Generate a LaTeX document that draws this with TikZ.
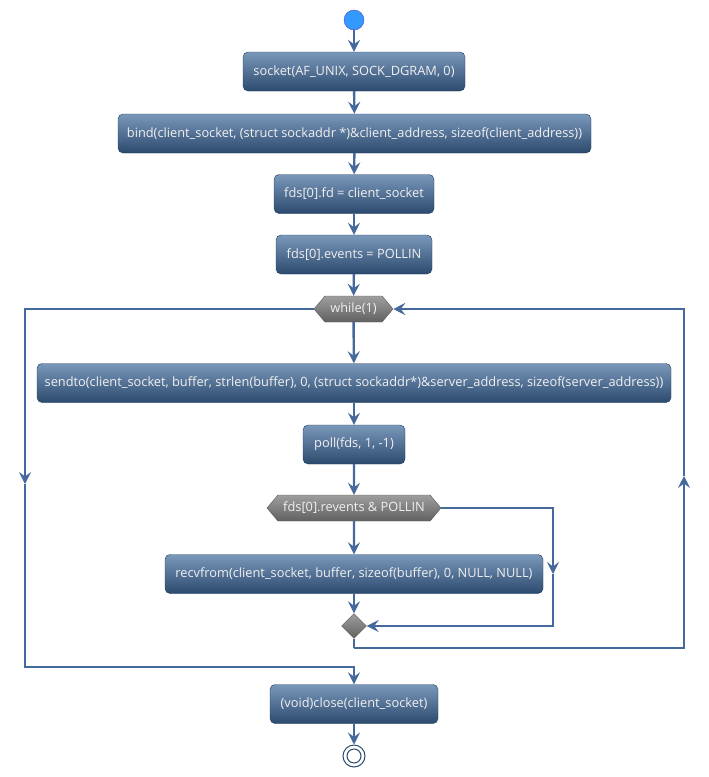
\documentclass[tikz,border=0pt]{standalone}
\usepackage{fontspec}
\setmainfont{Open Sans}
\usetikzlibrary{arrows.meta,shapes.geometric,shapes.symbols}
\definecolor{flowline}{HTML}{45699A}
\definecolor{boxtop}{HTML}{7A98BA}
\definecolor{boxbot}{HTML}{2C4A6E}
\definecolor{boxrim}{HTML}{1F3A5A}
\begin{document}
\begin{tikzpicture}[x=1pt, y=-1pt,
  act/.style={draw=boxrim, rounded corners=5pt, top color=boxtop, bottom color=boxbot,
    text=white!94!black, minimum height=39pt, inner sep=0pt, font=\fontsize{12.8}{14}\selectfont},
  cond/.style={signal, signal to=east and west, signal pointer angle=100, draw=black!65,
    top color=black!38, bottom color=black!62, text=white!94!black, minimum height=26pt,
    inner sep=0pt, font=\fontsize{12.8}{14}\selectfont},
  flow/.style={draw=flowline, line width=2.4pt, -{Stealth[length=12pt,width=12pt,inset=4.5pt]}},
  wire/.style={draw=flowline, line width=2.4pt}]
\useasboundingbox (0,0) rectangle (709,777);
\node[circle, draw=blue!60!black!70, fill={rgb,255:red,51;green,153;blue,255}, minimum size=20pt, inner sep=0pt] (start) at (354,20) {};
\node[act, minimum width=222pt] (sock) at (354,71.5) {socket(AF\_UNIX, SOCK\_DGRAM, 0)};
\node[act, minimum width=473pt] (bind) at (354.5,133.5) {bind(client\_socket, (struct sockaddr *)\&client\_address, sizeof(client\_address))};
\node[act, minimum width=160pt] (fd) at (354,194) {fds[0].fd = client\_socket};
\node[act, minimum width=156pt] (ev) at (354,254.5) {fds[0].events = POLLIN};
\node[cond, minimum width=79pt] (while) at (353.5,309) {while(1)};
\node[act, minimum width=634pt] (send) at (354,383) {sendto(client\_socket, buffer, strlen(buffer), 0, (struct sockaddr*)\&server\_address, sizeof(server\_address))};
\node[act, minimum width=102pt] (poll) at (354,444.5) {poll(fds, 1, -1)};
\node[cond, minimum width=174pt] (test) at (354,508) {fds[0].revents \& POLLIN};
\node[act, minimum width=378pt] (recv) at (354,574) {recvfrom(client\_socket, buffer, sizeof(buffer), 0, NULL, NULL)};
\node[diamond, draw=black!65, top color=black!38, bottom color=black!62, minimum size=25pt, inner sep=0pt] (merge) at (354,626) {};
\node[act, minimum width=168pt] (close) at (354,704) {(void)close(client\_socket)};
\node[circle, draw=boxbot, line width=1pt, fill=white, minimum size=22pt, inner sep=0pt] (stop) at (354,756) {};
\draw[boxbot, line width=1pt] (stop) circle (7pt);

\coordinate (skip) at (553,574);
\coordinate (loopL) at (25,484);
\coordinate (loopR) at (684,476);
\coordinate (exit) at (354,667);
\coordinate (back) at (354,648);

\draw[flow] (start) -- (sock);
\draw[flow] (sock) -- (bind);
\draw[flow] (bind) -- (fd);
\draw[flow] (fd) -- (ev);
\draw[flow] (ev) -- (while);
\draw[flow] (while) -- (send);
\draw[flow] (send) -- (poll);
\draw[flow] (poll) -- (test);
\draw[flow] (test) -- (recv);
\draw[flow] (recv) -- (merge);
\draw[flow] (test.east) -| (skip);
\draw[flow] (skip) |- (merge.east);
\draw[flow] (while.west) -| (loopL);
\draw[flow] (loopL) |- (exit) -- (close);
\draw[wire] (merge.south) -- (back);
\draw[flow] (back) -| (loopR);
\draw[flow] (loopR) |- (while.east);
\draw[flow] (close) -- (stop);
\end{tikzpicture}
\end{document}
